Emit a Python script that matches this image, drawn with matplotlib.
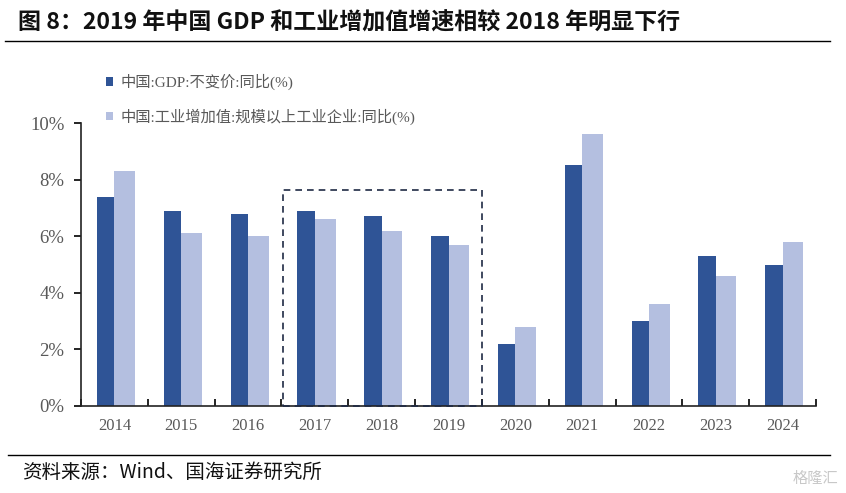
import matplotlib
matplotlib.use("Agg")
import matplotlib.pyplot as plt
from matplotlib.patches import Rectangle
import numpy as np

plt.rcParams['font.family'] = ['Noto Sans CJK SC', 'DejaVu Sans']

years = ['2014', '2015', '2016', '2017', '2018', '2019', '2020', '2021', '2022', '2023', '2024']
gdp = [7.4, 6.9, 6.8, 6.9, 6.7, 6.0, 2.2, 8.5, 3.0, 5.3, 5.0]
iva = [8.3, 6.1, 6.0, 6.6, 6.2, 5.7, 2.8, 9.6, 3.6, 4.6, 5.8]
gdp_label = '中国:GDP:不变价:同比(%)'
iva_label = '中国:工业增加值:规模以上工业企业:同比(%)'
title = '图 8：2019 年中国 GDP 和工业增加值增速相较 2018 年明显下行'
source = '资料来源：Wind、国海证券研究所'

dark = '#2F5496'
light = '#B4BFE0'
grey = '#595959'

fig = plt.figure(figsize=(8.46, 4.93), dpi=100)
ax = fig.add_axes([81 / 846, 1 - 406 / 493, (816 - 81) / 846, (406 - 123) / 493])

x = np.arange(len(years))
ax.bar(x - 0.13, gdp, width=0.26, color=dark, label=gdp_label, zorder=2)
ax.bar(x + 0.155, iva, width=0.31, color=light, label=iva_label, zorder=2)

ax.set_xlim(-0.5, len(years) - 0.5)
ax.set_ylim(0, 10)
ax.set_yticks(range(0, 11, 2))
ax.set_yticklabels([f'{v}%' for v in range(0, 11, 2)], family='Liberation Serif',
                   fontsize=13.5, color=grey)
ax.set_xticks(x)
ax.set_xticklabels(years, family='Liberation Serif', fontsize=12, color=grey)
ax.set_xticks(np.arange(-0.5, len(years)), minor=True)
ax.tick_params(axis='x', which='major', length=0, pad=9)
ax.tick_params(axis='x', which='minor', length=5, direction='in', width=1.2)
ax.tick_params(axis='y', length=5, direction='out', width=1.2, pad=7)
for s in ['top', 'right']:
    ax.spines[s].set_visible(False)
for s in ['left', 'bottom']:
    ax.spines[s].set_linewidth(1.2)
    ax.spines[s].set_color('#222222')

# dashed box around 2017-2019
ax.add_patch(Rectangle((2.53, 0), 2.97, 7.65, fill=False, ls=(0, (4, 3)),
                       lw=1.2, ec='#1F2A44', zorder=3, clip_on=False))

leg = ax.legend(loc='upper left', bbox_to_anchor=(0.015, 1.222), frameon=False,
                prop={'family': ['Liberation Serif', 'Noto Sans CJK SC'], 'size': 11},
                handlelength=0.45, handleheight=0.45,
                handletextpad=0.5, labelspacing=1.2)
for t in leg.get_texts():
    t.set_color(grey)

fig.text(18 / 846, 1 - 23 / 493, title, fontsize=16.6, fontweight='bold',
         va='center', ha='left', color='#111111')
fig.add_artist(plt.Line2D([5 / 846, 830 / 846], [1 - 41 / 493] * 2,
                          color='black', lw=1))
fig.add_artist(plt.Line2D([8 / 846, 830 / 846], [1 - 455 / 493] * 2,
                          color='black', lw=1))
fig.text(22 / 846, 1 - 472 / 493, source, fontsize=14, va='center', ha='left',
         color='#111111')
fig.text(838 / 846, 1 - 478 / 493, '格隆汇', fontsize=11, va='center', ha='right',
         color='#C8C8C8')

fig.savefig('out.png', dpi=100)
